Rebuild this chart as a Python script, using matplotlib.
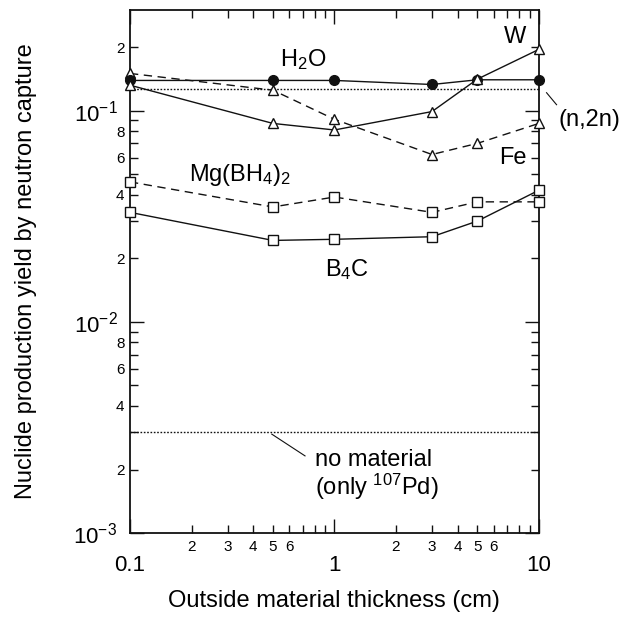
import matplotlib
matplotlib.use("Agg")
import matplotlib.pyplot as plt
from matplotlib.ticker import FixedLocator, FixedFormatter
import numpy as np

plt.rcParams['font.family'] = ['Liberation Sans', 'DejaVu Sans']
plt.rcParams['mathtext.fontset'] = 'custom'
plt.rcParams['mathtext.rm'] = 'Liberation Sans'
plt.rcParams['mathtext.it'] = 'Liberation Sans'

thickness = [0.1, 0.5, 1, 3, 5, 10]
h2o = [0.139, 0.139, 0.139, 0.133, 0.140, 0.140]
w = [0.132, 0.087, 0.081, 0.099, 0.141, 0.195]
fe = [0.150, 0.125, 0.091, 0.062, 0.070, 0.087]
mgbh4 = [0.046, 0.035, 0.039, 0.033, 0.037, 0.037]
b4c = [0.033, 0.0243, 0.0246, 0.0253, 0.030, 0.042]
n2n_level = 0.126
no_material_level = 0.003

fig = plt.figure(figsize=(6.34, 6.17), dpi=100)
ax = fig.add_axes([0.205, 0.136, 0.645, 0.848])
ax.set_xscale('log')
ax.set_yscale('log')
ax.set_xlim(0.1, 10)
ax.set_ylim(1e-3, 0.30)

lc = '#111111'
dash = (0, (6, 4))
ax.plot([0.1, 10], [n2n_level, n2n_level], color=lc, lw=1.0, ls=(0, (1.2, 1.2)))
ax.plot([0.1, 10], [no_material_level, no_material_level], color=lc, lw=1.0, ls=(0, (1.2, 1.2)))

ax.plot(thickness, mgbh4, color=lc, lw=1.0, ls=dash, marker='s', ms=7, mfc='white', mec=lc, mew=1.0, clip_on=False, zorder=3)
ax.plot(thickness, b4c, color=lc, lw=1.0, marker='s', ms=7, mfc='white', mec=lc, mew=1.0, clip_on=False, zorder=3)
ax.plot(thickness, fe, color=lc, lw=1.0, ls=dash, marker='^', ms=7.5, mfc='white', mec=lc, mew=1.0, clip_on=False, zorder=3)
ax.plot(thickness, h2o, color=lc, lw=1.0, marker='o', ms=7, mfc=lc, mec=lc, clip_on=False, zorder=4)
ax.plot(thickness, w, color=lc, lw=1.0, marker='^', ms=7.5, mfc='white', mec=lc, mew=1.0, clip_on=False, zorder=5)

# ticks
xmaj = [0.1, 1, 10]
xmin = [m * d for d in [0.1, 1] for m in range(2, 10)]
xmin_labels = ['2', '3', '4', '5', '6', '', '', ''] * 2
ax.xaxis.set_major_locator(FixedLocator(xmaj))
ax.xaxis.set_major_formatter(FixedFormatter(['0.1', '1', '10']))
ax.xaxis.set_minor_locator(FixedLocator(xmin))
ax.xaxis.set_minor_formatter(FixedFormatter(xmin_labels))

ymaj = [1e-3, 1e-2, 1e-1]
ymin = [m * d for d in [1e-3, 1e-2, 1e-1] for m in range(2, 10) if m * d <= 0.3]
ymin_labels = []
for v in ymin:
    m = round(v / 10 ** np.floor(np.log10(v) + 1e-9))
    ymin_labels.append(str(m) if m in (2, 4, 6, 8) else '')
ax.yaxis.set_major_locator(FixedLocator(ymaj))
ax.yaxis.set_major_formatter(FixedFormatter([r'10$^{-3}$', r'10$^{-2}$', r'10$^{-1}$']))
ax.yaxis.set_minor_locator(FixedLocator(ymin))
ax.yaxis.set_minor_formatter(FixedFormatter(ymin_labels))

ax.tick_params(which='both', direction='in', top=True, right=True, color=lc, width=1.0)
ax.tick_params(which='major', length=10, labelsize=16, pad=6)
ax.tick_params(which='minor', length=6, labelsize=11, pad=4)
ax.tick_params(axis='x', which='major', pad=16)
ax.tick_params(axis='x', which='minor', pad=5)
ax.tick_params(axis='y', which='major', pad=9)
for s in ax.spines.values():
    s.set_linewidth(1.3)
    s.set_color(lc)

ax.set_xlabel('Outside material thickness (cm)', fontsize=17, labelpad=10)
ax.set_ylabel('Nuclide production yield by neutron capture', fontsize=17, labelpad=26)

fs = 17
ax.text(0.70, 0.175, r'H$_2$O', fontsize=fs, ha='center', va='center')
ax.text(7.6, 0.222, 'W', fontsize=fs, ha='center', va='center')
ax.text(7.45, 0.0598, 'Fe', fontsize=fs, ha='center', va='center')
ax.text(0.345, 0.0498, r'Mg(BH$_4$)$_2$', fontsize=fs, ha='center', va='center')
ax.text(1.15, 0.0176, r'B$_4$C', fontsize=fs, ha='center', va='center')
ax.text(17.7, 0.0906, '(n,2n)', fontsize=fs, ha='center', va='center', clip_on=False)
ax.plot([10.9, 12.2], [0.1216, 0.1067], color=lc, lw=0.8, clip_on=False)
ax.text(0.80, 0.00222, 'no material', fontsize=fs, ha='left', va='center')
ax.text(0.80, 0.00165, r'(only $^{107}$Pd)', fontsize=fs, ha='left', va='center')
ax.plot([0.494, 0.718], [0.00294, 0.00232], color=lc, lw=0.8)

fig.savefig('out.png', dpi=100, facecolor='white')
